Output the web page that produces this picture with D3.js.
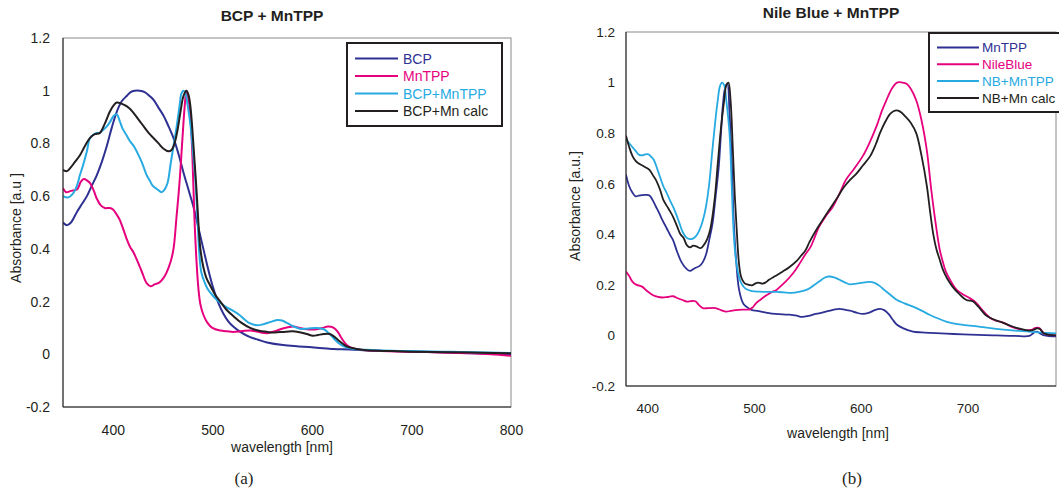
<!DOCTYPE html>
<html>
<head>
<meta charset="utf-8">
<script src="https://cdn.jsdelivr.net/npm/d3@7"></script>
<style>
  body { margin: 0; background: #fff; }
  text { font-family: Arial, "Liberation Sans", sans-serif; fill: #231f20; }
</style>
</head>
<body>
<div id="chart"></div>
<script>
// ---- panel (a): BCP + MnTPP, [wavelength nm, absorbance] ----
const bcpA = [[350,0.50],[354,0.49],[358,0.50],[364,0.54],[369,0.57],[374,0.60],[379,0.64],[384,0.68],[389,0.73],[394,0.79],[399,0.86],[404,0.92],[409,0.96],[414,0.98],[418,0.995],[422,1.0],[427,1.0],[432,0.995],[437,0.98],[441,0.965],[446,0.935],[451,0.905],[456,0.865],[461,0.82],[466,0.76],[471,0.69],[476,0.625],[481,0.56],[486,0.48],[491,0.40],[496,0.32],[501,0.25],[506,0.195],[511,0.155],[516,0.125],[521,0.105],[528,0.085],[538,0.065],[546,0.055],[555,0.045],[571,0.035],[587,0.03],[605,0.025],[622,0.02],[638,0.018],[660,0.014],[680,0.012],[700,0.01],[725,0.008],[750,0.005],[775,0.003],[800,0.0]];
const mntppA = [[350,0.63],[353,0.615],[358,0.62],[364,0.625],[368,0.655],[371,0.665],[374,0.66],[377,0.65],[381,0.62],[384,0.59],[388,0.565],[392,0.555],[397,0.555],[400,0.55],[404,0.53],[407,0.51],[411,0.47],[414,0.437],[417,0.41],[421,0.385],[424,0.36],[429,0.315],[434,0.27],[438,0.258],[442,0.265],[447,0.273],[451,0.29],[454,0.31],[458,0.35],[461,0.40],[464,0.52],[467,0.65],[470,0.82],[472,0.93],[474,1.0],[476,0.97],[478,0.9],[480,0.75],[482,0.52],[484,0.36],[486,0.25],[488,0.19],[491,0.15],[495,0.12],[500,0.1],[508,0.09],[515,0.087],[521,0.085],[530,0.088],[538,0.09],[546,0.085],[555,0.08],[563,0.088],[571,0.098],[581,0.105],[588,0.1],[595,0.095],[605,0.095],[611,0.1],[616,0.105],[622,0.1],[626,0.085],[630,0.06],[635,0.035],[640,0.024],[648,0.018],[655,0.015],[670,0.012],[700,0.01],[730,0.007],[760,0.004],[780,0.0],[800,-0.006]];
const mixA = [[350,0.60],[355,0.595],[360,0.61],[364,0.64],[367,0.68],[370,0.715],[374,0.77],[377,0.82],[381,0.835],[384,0.84],[387,0.84],[390,0.85],[394,0.865],[397,0.88],[401,0.905],[404,0.91],[407,0.885],[410,0.855],[414,0.83],[417,0.81],[421,0.79],[424,0.77],[429,0.73],[434,0.68],[437,0.66],[440,0.64],[445,0.625],[449,0.615],[452,0.625],[455,0.65],[458,0.72],[461,0.79],[464,0.86],[467,0.94],[469,0.99],[471,1.0],[473,0.99],[475,0.95],[478,0.87],[481,0.75],[483,0.66],[485,0.52],[487,0.38],[489,0.31],[492,0.275],[495,0.25],[500,0.225],[505,0.205],[510,0.19],[515,0.177],[521,0.165],[527,0.15],[533,0.13],[538,0.117],[545,0.11],[552,0.115],[558,0.122],[565,0.13],[570,0.128],[576,0.117],[581,0.107],[588,0.097],[595,0.097],[605,0.1],[612,0.095],[617,0.08],[622,0.06],[627,0.042],[632,0.03],[642,0.02],[660,0.016],[680,0.013],[700,0.012],[730,0.01],[760,0.008],[800,0.005]];
const calcA = [[350,0.70],[354,0.695],[358,0.71],[362,0.73],[367,0.755],[372,0.79],[377,0.82],[382,0.835],[387,0.84],[392,0.875],[397,0.92],[401,0.945],[404,0.955],[408,0.952],[412,0.945],[416,0.935],[420,0.92],[425,0.895],[430,0.87],[436,0.84],[441,0.82],[446,0.80],[451,0.78],[456,0.77],[459,0.775],[462,0.8],[465,0.85],[468,0.92],[471,0.98],[474,1.0],[476,0.985],[478,0.94],[480,0.85],[482,0.74],[484,0.63],[486,0.5],[488,0.4],[491,0.33],[494,0.29],[498,0.26],[503,0.225],[508,0.2],[514,0.17],[521,0.145],[529,0.12],[538,0.1],[546,0.09],[555,0.085],[563,0.083],[571,0.085],[581,0.087],[590,0.082],[595,0.077],[601,0.07],[606,0.073],[612,0.077],[618,0.077],[622,0.068],[626,0.055],[631,0.04],[635,0.03],[645,0.02],[655,0.015],[680,0.012],[700,0.01],[740,0.008],[770,0.006],[800,0.004]];

// ---- panel (b): Nile Blue + MnTPP ----
const mntppB = [[380,0.636],[383,0.59],[386,0.565],[389,0.55],[392,0.553],[395,0.555],[399,0.556],[402,0.553],[405,0.535],[408,0.51],[411,0.485],[414,0.457],[418,0.425],[421,0.4],[424,0.378],[428,0.33],[432,0.29],[437,0.262],[440,0.255],[444,0.265],[449,0.275],[452,0.29],[455,0.32],[458,0.378],[461,0.44],[464,0.55],[467,0.67],[469,0.8],[471,0.92],[473,0.98],[475,0.995],[477,0.88],[479,0.7],[481,0.45],[483,0.31],[486,0.18],[490,0.125],[494,0.11],[498,0.1],[503,0.097],[508,0.093],[514,0.088],[520,0.085],[527,0.083],[533,0.082],[540,0.078],[545,0.073],[551,0.077],[558,0.085],[564,0.09],[570,0.097],[575,0.102],[580,0.105],[585,0.102],[590,0.098],[596,0.09],[602,0.085],[608,0.09],[613,0.1],[618,0.105],[622,0.1],[626,0.085],[630,0.062],[634,0.042],[640,0.028],[649,0.015],[657,0.012],[665,0.01],[680,0.007],[696,0.004],[710,0.002],[727,0.0],[745,-0.002],[758,-0.002],[762,0.01],[765,0.015],[768,0.008],[772,0.0],[783,-0.004]];
const nileB = [[380,0.253],[383,0.235],[386,0.213],[390,0.2],[395,0.193],[400,0.175],[405,0.16],[410,0.152],[414,0.15],[419,0.152],[424,0.155],[428,0.148],[433,0.14],[437,0.134],[441,0.136],[445,0.135],[448,0.122],[452,0.108],[457,0.108],[464,0.108],[469,0.1],[474,0.094],[478,0.097],[483,0.1],[490,0.102],[496,0.103],[499,0.112],[502,0.128],[505,0.138],[508,0.148],[512,0.16],[516,0.17],[521,0.18],[525,0.195],[530,0.215],[534,0.233],[539,0.26],[543,0.286],[548,0.32],[553,0.35],[557,0.39],[561,0.43],[567,0.47],[574,0.51],[580,0.56],[586,0.615],[594,0.66],[602,0.71],[608,0.76],[615,0.83],[620,0.89],[624,0.93],[629,0.975],[634,1.0],[639,1.0],[643,0.995],[647,0.975],[652,0.93],[657,0.85],[662,0.73],[666,0.58],[671,0.42],[674,0.34],[677,0.29],[680,0.25],[685,0.21],[690,0.18],[696,0.162],[702,0.148],[708,0.13],[714,0.1],[721,0.07],[727,0.058],[734,0.05],[741,0.035],[749,0.024],[755,0.02],[760,0.022],[764,0.03],[767,0.03],[771,0.012],[776,0.003],[783,0.0]];
const mixB = [[380,0.774],[383,0.76],[386,0.745],[389,0.73],[392,0.715],[395,0.712],[398,0.716],[401,0.716],[404,0.705],[406,0.695],[410,0.65],[415,0.59],[418,0.565],[421,0.536],[424,0.51],[427,0.48],[430,0.445],[433,0.41],[436,0.39],[439,0.382],[442,0.382],[446,0.395],[449,0.418],[452,0.455],[455,0.51],[458,0.6],[461,0.735],[464,0.86],[466,0.93],[468,0.985],[470,1.0],[472,0.99],[474,0.93],[477,0.8],[479,0.6],[481,0.4],[483,0.3],[486,0.23],[488,0.207],[492,0.185],[498,0.175],[505,0.173],[513,0.172],[521,0.172],[528,0.17],[535,0.168],[542,0.172],[549,0.18],[555,0.195],[561,0.213],[566,0.228],[570,0.233],[575,0.23],[580,0.22],[585,0.21],[590,0.202],[596,0.205],[602,0.209],[608,0.212],[613,0.208],[618,0.195],[622,0.18],[628,0.16],[634,0.14],[641,0.127],[649,0.114],[657,0.098],[665,0.081],[672,0.068],[680,0.055],[688,0.047],[696,0.042],[712,0.034],[727,0.026],[742,0.02],[758,0.015],[770,0.011],[783,0.008]];
const calcB = [[380,0.79],[383,0.745],[386,0.71],[389,0.69],[392,0.68],[397,0.668],[402,0.655],[405,0.635],[408,0.615],[412,0.575],[415,0.536],[420,0.5],[424,0.47],[428,0.43],[431,0.4],[434,0.385],[437,0.357],[440,0.348],[443,0.355],[446,0.352],[450,0.345],[453,0.358],[456,0.38],[459,0.42],[463,0.536],[466,0.68],[469,0.82],[472,0.93],[474,0.99],[476,1.0],[478,0.93],[480,0.75],[482,0.55],[484,0.4],[486,0.28],[488,0.23],[491,0.207],[495,0.2],[498,0.198],[501,0.205],[504,0.209],[508,0.205],[511,0.21],[514,0.22],[520,0.235],[527,0.253],[533,0.27],[540,0.295],[544,0.315],[548,0.335],[552,0.37],[558,0.415],[564,0.455],[571,0.5],[578,0.545],[584,0.585],[590,0.615],[596,0.64],[602,0.672],[609,0.71],[614,0.755],[618,0.8],[623,0.845],[628,0.878],[633,0.89],[637,0.885],[642,0.865],[647,0.84],[652,0.8],[657,0.71],[662,0.59],[665,0.49],[668,0.4],[671,0.34],[674,0.3],[677,0.26],[681,0.225],[686,0.193],[692,0.165],[699,0.14],[705,0.135],[710,0.115],[717,0.081],[723,0.066],[730,0.055],[738,0.042],[746,0.03],[752,0.024],[758,0.019],[762,0.022],[765,0.028],[768,0.025],[771,0.01],[776,0.003],[783,0.0]];

// tick labels
const yTicks = [-0.2, 0, 0.2, 0.4, 0.6, 0.8, 1, 1.2];
const xTicksA = [400, 500, 600, 700, 800];
const xTicksB = [400, 500, 600, 700];

// colours
const cDark = "#2e3192", cPink = "#e6007e", cCyan = "#27aae1", cBlack = "#231f20";

const svg = d3.select("#chart").append("svg")
    .attr("width", 1059)
    .attr("height", 492);

function drawPanel(p) {
  const x = d3.scaleLinear().domain(p.xDomain).range([p.left, p.right]);
  const y = d3.scaleLinear().domain([-0.2, 1.2]).range([p.bottom, p.top]);
  const g = svg.append("g");

  // plot frame: grey box, darker axis lines
  g.append("rect")
      .attr("x", p.left).attr("y", p.top)
      .attr("width", p.right - p.left).attr("height", p.bottom - p.top)
      .attr("fill", "none").attr("stroke", "#8a8a8a").attr("stroke-width", 1);

  const clipId = "clip" + p.id;
  g.append("clipPath").attr("id", clipId)
    .append("rect")
      .attr("x", p.left).attr("y", p.top)
      .attr("width", p.right - p.left).attr("height", p.bottom - p.top);

  const line = d3.line()
      .x(d => x(d[0]))
      .y(d => y(d[1]))
      .curve(d3.curveCatmullRom.alpha(0.5));

  p.series.forEach(s => {
    g.append("path")
        .datum(s.data)
        .attr("clip-path", "url(#" + clipId + ")")
        .attr("fill", "none")
        .attr("stroke", s.color)
        .attr("stroke-width", p.lineWidth)
        .attr("stroke-linejoin", "round")
        .attr("d", line);
  });

  // axes (labels only, no ticks)
  g.append("g")
      .attr("transform", "translate(0," + p.bottom + ")")
      .call(d3.axisBottom(x).tickValues(p.xTicks).tickSize(0).tickPadding(p.xPad).tickFormat(d3.format("d")))
      .call(a => a.select(".domain").remove())
      .selectAll("text").style("font-size", p.tickFont).attr("fill", "#231f20")
      .style("font-family", "Arial, 'Liberation Sans', sans-serif");
  g.append("g")
      .attr("transform", "translate(" + p.left + ",0)")
      .call(d3.axisLeft(y).tickValues(yTicks).tickSize(0).tickPadding(p.yPad).tickFormat(d => String(+d.toFixed(1))))
      .call(a => a.select(".domain").remove())
      .selectAll("text").style("font-size", p.tickFont).attr("fill", "#231f20")
      .style("font-family", "Arial, 'Liberation Sans', sans-serif");

  g.append("line")
      .attr("x1", p.left).attr("x2", p.left).attr("y1", p.top).attr("y2", p.bottom)
      .attr("stroke", "#231f20").attr("stroke-width", 1);
  g.append("line")
      .attr("x1", p.left).attr("x2", p.right).attr("y1", p.bottom).attr("y2", p.bottom)
      .attr("stroke", "#231f20").attr("stroke-width", 1);

  // titles
  g.append("text")
      .attr("x", p.titleX).attr("y", p.titleY)
      .attr("text-anchor", "middle")
      .style("font-size", "15.5px").style("font-weight", "bold")
      .text(p.title);
  g.append("text")
      .attr("x", p.xLabelX).attr("y", p.xLabelY)
      .attr("text-anchor", "middle")
      .style("font-size", "14px")
      .text("wavelength [nm]");
  g.append("text")
      .attr("transform", "translate(" + p.yLabelX + "," + p.yLabelY + ") rotate(-90)")
      .attr("text-anchor", "middle")
      .style("font-size", "14px")
      .text(p.yLabel);
  g.append("text")
      .attr("x", p.capX).attr("y", p.capY)
      .attr("text-anchor", "middle")
      .style("font-family", "'Liberation Serif', 'Times New Roman', serif")
      .style("font-size", "17px")
      .text(p.caption);

  // legend
  const L = p.legend;
  const lg = g.append("g");
  lg.append("rect")
      .attr("x", L.x).attr("y", L.y).attr("width", L.w).attr("height", L.h)
      .attr("fill", "#fff").attr("stroke", "#231f20").attr("stroke-width", 2);
  p.series.forEach((s, i) => {
    const ry = L.row0 + i * L.dy;
    lg.append("line")
        .attr("x1", L.x + L.lx0).attr("x2", L.x + L.lx1)
        .attr("y1", ry).attr("y2", ry)
        .attr("stroke", s.color).attr("stroke-width", 2);
    lg.append("text")
        .attr("x", L.x + L.tx).attr("y", ry)
        .attr("dy", "0.36em")
        .style("font-size", L.font)
        .style("fill", s.color)
        .text(s.name);
  });
}

drawPanel({
  id: "a", left: 63, right: 511, top: 38, bottom: 407, xDomain: [350, 800],
  xTicks: xTicksA, tickFont: "14px", xPad: 18, yPad: 13, lineWidth: 2,
  title: "BCP + MnTPP", titleX: 272, titleY: 21,
  xLabelX: 282, xLabelY: 452, yLabel: "Absorbance [a.u ]", yLabelX: 21, yLabelY: 228,
  caption: "(a)", capX: 244, capY: 484,
  legend: {x: 347, y: 43, w: 155, h: 83, row0: 58.5, dy: 17.5, lx0: 8, lx1: 51, tx: 56, font: "14px"},
  series: [
    {name: "BCP", color: cDark, data: bcpA},
    {name: "MnTPP", color: cPink, data: mntppA},
    {name: "BCP+MnTPP", color: cCyan, data: mixA},
    {name: "BCP+Mn calc", color: cBlack, data: calcA}
  ]
});

drawPanel({
  id: "b", left: 626, right: 1056, top: 32, bottom: 386, xDomain: [380, 783],
  xTicks: xTicksB, tickFont: "13.5px", xPad: 17, yPad: 11, lineWidth: 1.8,
  title: "Nile Blue + MnTPP", titleX: 831, titleY: 18,
  xLabelX: 838, xLabelY: 438, yLabel: "Absorbance [a.u.]", yLabelX: 580, yLabelY: 206,
  caption: "(b)", capX: 852, capY: 484,
  legend: {x: 929, y: 33, w: 150, h: 79, row0: 47.5, dy: 16.8, lx0: 8, lx1: 50, tx: 53, font: "13.5px"},
  series: [
    {name: "MnTPP", color: cDark, data: mntppB},
    {name: "NileBlue", color: cPink, data: nileB},
    {name: "NB+MnTPP", color: cCyan, data: mixB},
    {name: "NB+Mn calc", color: cBlack, data: calcB}
  ]
});
</script>
</body>
</html>
